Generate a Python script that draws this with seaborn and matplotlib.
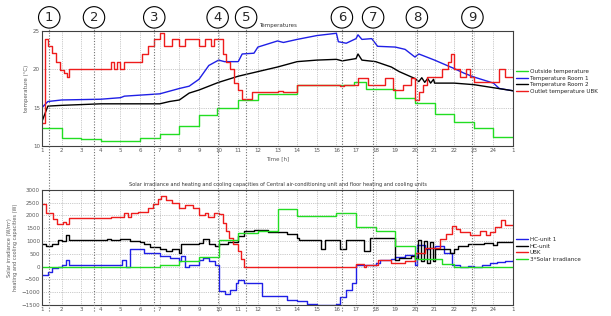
import pandas as pd
import seaborn as sns
import matplotlib.pyplot as plt
from matplotlib import transforms
from matplotlib.lines import Line2D

# hour axis: 1 .. 24 then 1 again (next day)
hour_ticks = list(range(1, 26))
hour_labels = [str(h) for h in range(1, 25)] + ['1']

event_labels = ['1', '2', '3', '4', '5', '6', '7', '8', '9']
event_hours = [1.37, 3.65, 6.72, 9.95, 11.4, 16.28, 17.87, 20.1, 22.93]

# --- temperatures (deg C) ---
outside_temp = [(1, 12.4), (2, 11.1), (3, 10.9), (4, 10.7), (6, 11.0), (7, 11.5), (8, 12.6),
                (9, 14.0), (9.9, 14.9), (11, 16.0), (12, 16.8), (14, 18.0), (16.9, 18.3),
                (17.5, 17.4), (19, 16.2), (20, 15.6), (21, 14.2), (22, 13.1), (23, 12.3),
                (24, 11.2), (25, 11.2)]
room1_temp = [(1, 15.0), (1.3, 15.8), (2, 16.0), (4, 16.1), (5, 16.3), (5.2, 16.5), (7, 16.8),
              (8, 17.5), (8.5, 17.8), (9, 18.7), (9.5, 20.5), (10, 21.2), (10.3, 21.0), (11, 21.0),
              (11.2, 22.0), (11.8, 22.1), (12, 22.9), (13, 23.7), (13.3, 23.5), (14, 23.9),
              (15, 24.4), (16, 24.7), (16.1, 23.6), (16.5, 23.4), (17, 24.0), (17.1, 24.5),
              (17.3, 23.9), (17.8, 24.0), (18.1, 23.0), (19, 22.9), (19.5, 22.6), (20, 21.6),
              (20.2, 22.0), (21, 21.2), (22, 20.1), (22.5, 19.5), (23, 19.0), (24, 18.2),
              (24.3, 17.5), (25, 17.2)]
room2_temp = [(1, 13.2), (1.3, 15.2), (2, 15.3), (3, 15.4), (4, 15.5), (7, 15.5), (7.5, 15.8),
              (8, 16.0), (8.5, 16.9), (9, 17.3), (10, 18.3), (11, 19.1), (12, 19.7), (13, 20.3),
              (14, 21.0), (15, 21.2), (16, 21.3), (16.3, 21.1), (17, 21.4), (17.1, 22.0),
              (17.3, 21.2), (18, 21.0), (18.8, 20.3), (19.2, 19.7), (20, 18.8), (20.2, 18.4),
              (20.35, 18.9), (20.5, 18.3), (20.65, 18.8), (20.8, 18.2), (20.95, 18.7), (21, 18.2),
              (22, 18.2), (23, 18.0), (24, 17.6), (25, 17.2)]
ubk_temp = [(1, 13.0), (1.15, 23.9), (1.3, 23.0), (1.5, 22.1), (1.7, 21.0), (1.9, 19.9), (2.1, 19.5),
            (2.25, 19.0), (2.4, 20.0), (4.5, 21.0), (4.65, 20.0), (4.8, 21.0), (5.0, 20.0),
            (5.2, 21.0), (6.1, 22.0), (6.4, 23.0), (6.7, 24.0), (7.0, 24.7), (7.2, 23.0),
            (7.6, 24.0), (8.0, 23.0), (8.3, 24.0), (9.0, 23.0), (9.3, 24.0), (9.6, 23.0),
            (9.75, 24.0), (10.2, 22.0), (10.4, 21.0), (10.6, 20.0), (10.8, 18.2), (11.0, 17.3),
            (11.2, 16.1), (11.7, 17.0), (13.0, 17.2), (13.3, 17.0), (14.0, 18.0), (16.2, 17.8),
            (16.4, 18.0), (17.1, 18.9), (17.6, 18.0), (18.5, 18.9), (18.9, 17.3), (19.4, 18.0),
            (19.8, 18.9), (20.0, 16.0), (20.2, 17.0), (20.4, 18.0), (20.6, 19.0), (21.4, 20.0),
            (21.7, 21.0), (21.85, 22.0), (22.0, 20.0), (22.3, 19.0), (22.6, 20.0), (22.8, 19.0),
            (23.0, 18.4), (24.3, 20.0), (24.6, 19.0), (25, 19.0)]

# --- capacities (W) and solar irradiance ---
hc_unit1 = [(1, -320), (1.3, -230), (1.5, -50), (1.8, 0), (2.0, 80), (2.2, 250), (2.4, 80),
            (5.0, 80), (5.1, 275), (5.3, 0), (5.5, 670), (6.2, 540), (7.0, 400), (7.5, 330),
            (8.0, 230), (8.1, 400), (8.3, 0), (8.5, 80), (9.0, 275), (9.2, 350), (9.5, 200),
            (9.8, 80), (10.0, -970), (10.3, -1060), (10.6, -900), (10.9, -640), (11.0, -510),
            (11.3, -660), (12.0, -640), (12.2, -1140), (13.0, -1160), (13.5, -1300),
            (14.0, -1360), (14.5, -1450), (15.0, -1490), (16.0, -1460), (16.2, -1170),
            (16.5, -900), (16.8, -640), (17.0, 80), (18.0, 144), (18.2, 275), (18.8, 300),
            (19.0, 380), (19.5, 470), (20.0, 80), (20.1, 860), (20.5, 670), (20.7, 720),
            (21.0, 800), (21.5, 540), (21.9, 80), (22.3, 0), (22.7, 40), (23.0, 0), (23.4, 80),
            (23.8, 144), (24.2, 170), (24.6, 210), (25, 270)]
hc_unit2 = [(1, 865), (1.2, 800), (1.5, 865), (1.8, 1060), (2.0, 1000), (2.2, 1220), (2.4, 1060),
            (4.3, 1090), (4.5, 1035), (5.0, 1090), (5.5, 1000), (6.0, 955), (6.2, 890), (6.5, 770),
            (7.0, 670), (7.3, 600), (7.6, 700), (8.0, 540), (8.1, 865), (9.0, 930), (9.2, 1090),
            (9.5, 865), (9.8, 800), (10.0, 865), (10.5, 955), (11.0, 1190), (11.3, 1390),
            (11.8, 1450), (12.5, 1350), (13.5, 1260), (14.0, 1130), (14.1, 1060), (15.2, 700),
            (15.4, 1060), (16.2, 700), (16.5, 1060), (17.4, 600), (17.7, 1100), (19.0, 275),
            (19.2, 350), (19.8, 430), (20.0, 350), (20.15, 1050), (20.3, 200), (20.45, 1000),
            (20.6, 150), (20.75, 950), (20.9, 200), (21.0, 670), (21.8, 540), (22.0, 670),
            (22.2, 800), (22.7, 900), (23.5, 930), (24.0, 860), (24.2, 955), (25, 1000)]
ubk_power = [(1, 2440), (1.2, 2100), (1.55, 1850), (1.75, 1650), (2.05, 1750), (2.2, 1650),
             (2.4, 1900), (4.5, 1950), (5.2, 2100), (5.4, 1950), (5.55, 2100), (5.9, 2150),
             (6.4, 2300), (6.65, 2450), (6.9, 2650), (7.05, 2750), (7.3, 2600), (7.6, 2500),
             (8.0, 2300), (8.3, 2400), (8.7, 2300), (9.0, 2000), (9.3, 2100), (9.45, 1950),
             (9.75, 2100), (10.0, 2050), (10.2, 1700), (10.4, 1400), (10.55, 1100), (10.75, 900),
             (11.0, 600), (11.15, 300), (11.3, 0), (17.0, 120), (17.4, 0), (17.5, 60),
             (18.1, 270), (18.8, 150), (19.5, 210), (20.0, 540), (20.5, 730), (21.3, 1090),
             (21.6, 1260), (21.9, 1590), (22.1, 1480), (22.3, 1350), (22.8, 1220), (23.3, 1380),
             (23.6, 1250), (23.8, 1350), (24.1, 1560), (24.4, 1820), (24.6, 1610), (25, 1610)]
solar_3x = [(1, 0), (7.0, 80), (8.0, 200), (9.0, 380), (10.0, 1060), (11.0, 1320), (12.0, 1400),
            (13.0, 2270), (14.0, 1980), (16.0, 2110), (17.0, 1560), (18.0, 1390), (19.0, 825),
            (20.0, 300), (21.4, 120), (22.0, 0), (25, 0)]

GREEN = '#22dd22'
BLUE = '#1f1fe6'
RED = '#ee1c1c'
BLACK = '#000000'

sns.set_theme(style='white')
plt.rcParams['font.family'] = ['DejaVu Sans']
plt.rcParams['xtick.direction'] = 'in'
plt.rcParams['ytick.direction'] = 'in'


def draw(ax, pts, color, label, steps=True):
    df = pd.DataFrame(pts, columns=['hour', 'value'])
    sns.lineplot(data=df, x='hour', y='value', ax=ax, color=color, lw=1.0, label=label,
                 estimator=None, sort=False, drawstyle='steps-post' if steps else 'default')


def style_axes(ax, yticks):
    ax.set_xlim(1, 25)
    ax.set_xticks(hour_ticks)
    ax.set_xticklabels(hour_labels, fontsize=4, color='0.35')
    ax.set_yticks(yticks)
    ax.set_ylim(yticks[0], yticks[-1])
    ax.tick_params(axis='y', labelsize=4, labelcolor='0.35', length=2, width=0.5, pad=1.5)
    ax.tick_params(axis='x', length=2, width=0.5, pad=1.5)
    ax.grid(True, ls=':', lw=0.5, color='0.6')
    for s in ax.spines.values():
        s.set_color('0.25')
        s.set_linewidth(0.8)
    ax.set_xlabel('')


fig = plt.figure(figsize=(6.11, 3.16), dpi=100)
ax1 = fig.add_axes([0.0687, 0.538, 0.771, 0.364])
ax2 = fig.add_axes([0.0687, 0.035, 0.771, 0.364])

draw(ax1, outside_temp, GREEN, 'Outside temperature')
draw(ax1, room1_temp, BLUE, 'Temperature Room 1', steps=False)
draw(ax1, room2_temp, BLACK, 'Temperature Room 2', steps=False)
draw(ax1, ubk_temp, RED, 'Outlet temperature UBK')
style_axes(ax1, [10, 15, 20, 25])
ax1.set_ylabel('temperature (°C)', fontsize=4, color='0.35', labelpad=3)
ax1.set_xlabel('Time [h]', fontsize=4, color='0.35', labelpad=2)
ax1.set_title('Temperatures', fontsize=4, color='0.2', pad=3)
ax1.legend(loc='upper left', bbox_to_anchor=(1.0, 0.7), frameon=False, fontsize=4.1,
           handlelength=2.0, handletextpad=0.3, labelspacing=0.3, borderaxespad=0.2)

draw(ax2, hc_unit1, BLUE, 'HC-unit 1')
draw(ax2, hc_unit2, BLACK, 'HC-unit')
draw(ax2, ubk_power, RED, 'UBK')
draw(ax2, solar_3x, GREEN, '3*Solar irradiance')
style_axes(ax2, list(range(-1500, 3001, 500)))
ax2.set_ylabel('Solar irradiance (W/m²)\nheating and cooling capacities (W)',
               fontsize=3.6, color='0.35', labelpad=2, linespacing=1.3)
ax2.set_title('Solar irradiance and heating and cooling capacities of Central air-conditioning '
              'unit and floor heating and cooling units', fontsize=3.6, color='0.2', pad=3)
ax2.legend(loc='upper left', bbox_to_anchor=(1.0, 0.62), frameon=False, fontsize=4.1,
           handlelength=2.0, handletextpad=0.3, labelspacing=0.3, borderaxespad=0.2)

# event markers: circled numbers with dotted lines through both panels
blend = transforms.blended_transform_factory(ax1.transData, fig.transFigure)
for lab, h in zip(event_labels, event_hours):
    fig.add_artist(Line2D([h, h], [0.015, 0.915], transform=blend, ls=(0, (1, 1.5)),
                          lw=0.8, color='0.45', zorder=5))
    ax1.text(h, 0.945, lab, transform=blend, ha='center', va='center', fontsize=9.5,
             zorder=6, bbox=dict(boxstyle='circle,pad=0.32', fc='white', ec='black', lw=0.8))

fig.savefig('out.png', dpi=100)
